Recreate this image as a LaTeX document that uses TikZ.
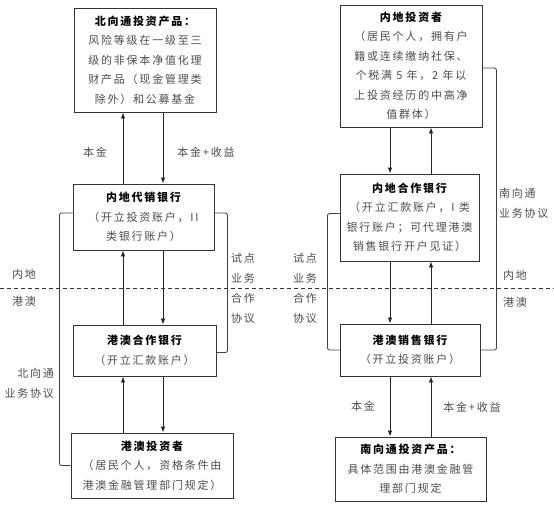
\documentclass[tikz,border=0pt]{standalone}
\usepackage{fontspec}
\newfontfamily\cjk[LetterSpace=16]{Noto Sans CJK SC}
\usetikzlibrary{arrows.meta}
\tikzset{
  box/.style={draw=black!80,line width=0.9pt,align=center,inner sep=0pt,
    font=\cjk\fontsize{11}{19.5}\selectfont,text=black!70},
  flow/.style={-{Latex[length=6pt,width=4.5pt]},line width=0.8pt,draw=black!85},
  link/.style={line width=0.8pt,draw=black!75,rounded corners=2pt},
  tag/.style={font=\cjk\fontsize{11}{20}\selectfont,text=black!70,inner sep=0pt,align=center},
}
\newcommand{\hd}[1]{{\bfseries\color{black}#1}}
\begin{document}
\begin{tikzpicture}[x=1pt,y=-1pt]
    \useasboundingbox (0,0) rectangle (554,506);
    % --- columns of the arrows ---
    \coordinate (cl1) at (123,0);
    \coordinate (cl2) at (163,0);
    \coordinate (cr1) at (390,0);
    \coordinate (cr2) at (431,0);
    % --- northbound side ---
    \node[box,minimum width=142pt,minimum height=104pt] (nprod) at (145,60)
      {\hd{北向通投资产品：}\\风险等级在一级至三\\级的非保本净值化理\\财产品（现金管理类\\除外）和公募基金};
    \node[box,minimum width=141pt,minimum height=66pt] (mlbank) at (143.5,217)
      {\hd{内地代销银行}\\（开立投资账户，II\\类银行账户）};
    \node[box,minimum width=143pt,minimum height=51pt] (hkcoop) at (144.5,350.5)
      {\hd{港澳合作银行}\\（开立汇款账户）};
    \node[box,minimum width=162pt,minimum height=65pt] (hkinv) at (152,465.5)
      {\hd{港澳投资者}\\（居民个人，资格条件由\\港澳金融管理部门规定）};
    % --- southbound side ---
    \node[box,minimum width=142pt,minimum height=122pt] (mlinv) at (411,66)
      {\hd{内地投资者}\\（居民个人，拥有户\\籍或连续缴纳社保、\\个税满 5 年，2 年以\\上投资经历的中高净\\值群体）};
    \node[box,minimum width=139pt,minimum height=87pt] (mlcoop) at (409.5,217.5)
      {\hd{内地合作银行}\\（开立汇款账户，I 类\\银行账户；可代理港澳\\销售银行开户见证）};
    \node[box,minimum width=140pt,minimum height=52pt] (hksell) at (410,350)
      {\hd{港澳销售银行}\\（开立投资账户）};
    \node[box,minimum width=151pt,minimum height=64pt] (sprod) at (410.5,469)
      {\hd{南向通投资产品：}\\具体范围由港澳金融管\\理部门规定};
    % --- money flows ---
    \draw[flow] (mlbank.north -| cl1) -- (nprod.south -| cl1);
    \draw[flow] (nprod.south -| cl2) -- (mlbank.north -| cl2);
    \draw[flow] (hkcoop.north -| cl1) -- (mlbank.south -| cl1);
    \draw[flow] (mlbank.south -| cl2) -- (hkcoop.north -| cl2);
    \draw[flow] (hkinv.north -| cl1) -- (hkcoop.south -| cl1);
    \draw[flow] (hkcoop.south -| cl2) -- (hkinv.north -| cl2);
    \draw[flow] (mlinv.south -| cr1) -- (mlcoop.north -| cr1);
    \draw[flow] (mlcoop.north -| cr2) -- (mlinv.south -| cr2);
    \draw[flow] (mlcoop.south -| cr1) -- (hksell.north -| cr1);
    \draw[flow] (hksell.north -| cr2) -- (mlcoop.south -| cr2);
    \draw[flow] (hksell.south -| cr1) -- (sprod.north -| cr1);
    \draw[flow] (sprod.north -| cr2) -- (hksell.south -| cr2);
    \node[tag] (lprin) at (95,152) {本金};
    \node[tag] (lret) at (206,152) {本金+收益};
    \node[tag] (rprin) at (363,406) {本金};
    \node[tag] (rret) at (472,407) {本金+收益};
    % --- agreements ---
    \draw[link] ([yshift=4pt]mlbank.west) -- ++(-13,0) |- (hkinv.west);
    \draw[link] ([yshift=4pt]mlbank.east) -- ++(13,0) |- ([yshift=-2pt]hkcoop.east);
    \draw[link] ([yshift=-2pt]mlinv.east) -- ++(14,0) |- (hksell.east);
    \draw[link] ([yshift=4pt]mlcoop.west) -- ++(-12,0) |- (hksell.west);
    \node[tag] (lpilot) at (243,288) {试点\\业务\\合作\\协议};
    \node[tag] (rpilot) at (305,288) {试点\\业务\\合作\\协议};
    \node[tag,anchor=east,align=right] (nagr) at (54,383) {北向通\\业务协议};
    \node[tag,anchor=west,align=left] (sagr) at (499,203) {南向通\\业务协议};
    % --- border between the two regions ---
    \draw[black!80,line width=0.8pt,dash pattern=on 4pt off 3pt] (0,288) -- (554,288);
    \node[tag] (lml) at (24,274) {内地};
    \node[tag] (lhk) at (24,301) {港澳};
    \node[tag] (rml) at (515,275) {内地};
    \node[tag] (rhk) at (515,302) {港澳};
\end{tikzpicture}
\end{document}
